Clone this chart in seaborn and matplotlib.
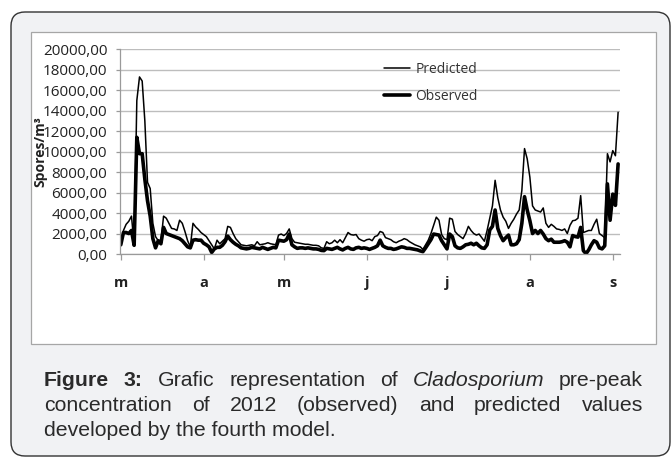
import pandas as pd
import matplotlib.pyplot as plt
import seaborn as sns
from matplotlib.patches import FancyBboxPatch, Rectangle
from matplotlib.transforms import IdentityTransform

# daily Cladosporium concentration, 1 March - 3 September 2012 (spores/m3)
start_date = "2012-03-01"
end_date = "2012-09-03"

predicted = [
    950, 2300, 2900, 3200, 3700, 900, 15000, 17300, 16900, 13000,
    7000, 6400, 3000, 1700, 1300, 1200, 3700, 3500, 3000, 2500,
    2450, 2300, 3300, 3000, 2200, 1300, 700, 3000, 2650, 2400,
    2100, 1900, 1700, 1300, 900, 500, 1350, 1000, 1250, 1500,
    2700, 2600, 2000, 1500, 1200, 900, 850, 800, 850, 900,
    800, 1200, 900, 950, 1000, 1100, 1000, 950, 900, 1850,
    1950, 1800, 2000, 2450, 1500, 1150, 1100, 1050, 1000, 950,
    950, 900, 850, 850, 800, 600, 550, 1200, 1000, 1100,
    1350, 1100, 1400, 1100, 1600, 2100, 1900, 1850, 1900, 1500,
    1350, 1250, 1400, 1450, 1300, 1700, 1800, 2200, 2100, 1600,
    1500, 1400, 1200, 1100, 1250, 1350, 1500, 1400, 1200, 1050,
    900, 800, 700, 450, 900, 1350, 2000, 2800, 3600, 3300,
    1900, 1500, 1400, 3500, 3400, 2200, 1900, 1700, 1500, 2000,
    2700, 2300, 2000, 1850, 1950, 1600, 1250, 2300, 3500, 4700,
    7200, 5500, 4300, 3600, 3200, 2500, 3000, 3400, 3900, 4300,
    6200, 10300, 9300, 7500, 4700, 4300, 4200, 4100, 4500, 3000,
    2600, 2900, 2700, 2450, 2400, 2300, 2450, 2000, 2800, 3250,
    3300, 3500, 5700, 2100, 2200, 2300, 2300, 2900, 3400, 2000,
    1800, 1600, 9800, 9000, 10100, 9600, 13850,
]

observed = [
    900, 2100, 2100, 2000, 2300, 850, 11400, 9800, 9800, 7300,
    5200, 3700, 1500, 600, 1300, 1000, 2600, 2000, 1900, 1800,
    1700, 1600, 1500, 1300, 1000, 700, 600, 1350, 1400, 1350,
    1350, 1050, 900, 700, 150, 500, 650, 650, 850, 1200,
    1750, 1400, 1150, 950, 800, 600, 550, 500, 550, 650,
    600, 550, 500, 650, 550, 450, 550, 650, 600, 1350,
    1300, 1250, 1400, 1950, 900, 700, 550, 600, 600, 550,
    600, 550, 500, 500, 450, 350, 330, 550, 500, 450,
    550, 650, 500, 400, 550, 650, 500, 450, 600, 650,
    550, 600, 550, 450, 550, 650, 800, 1350, 800, 650,
    550, 550, 450, 500, 600, 700, 650, 550, 550, 500,
    450, 400, 300, 230, 600, 1000, 1400, 1950, 1900, 1850,
    1300, 900, 500, 1950, 1700, 800, 600, 550, 700, 900,
    950, 1050, 900, 1050, 800, 600, 550, 900, 2350, 2700,
    4300, 2500, 1800, 1300, 1600, 1850, 900, 900, 1000, 1400,
    3000, 5600, 4300, 3250, 2000, 2300, 2000, 2300, 1950, 1500,
    1300, 1450, 1150, 1150, 1150, 1200, 1300, 1150, 700, 1800,
    1700, 1650, 2600, 330, 30, 400, 900, 1300, 1150, 600,
    500, 800, 6850, 3300, 5850, 4750, 8800,
]

month_labels = ["m", "a", "m", "j", "j", "a", "s"]
y_ticks = [0, 2000, 4000, 6000, 8000, 10000, 12000, 14000, 16000, 18000, 20000]

dates = pd.date_range(start_date, end_date, freq="D")
df = pd.DataFrame({"date": dates, "Predicted": predicted, "Observed": observed})

sns.set_theme(style="white")
plt.rcParams["font.family"] = ["Open Sans", "DejaVu Sans"]

W, H = 671, 457
fig = plt.figure(figsize=(W / 100, H / 100), dpi=100)
fig.patch.set_facecolor("white")


def px(x, y):
    # top-left pixel coords -> figure fraction
    return x / W, 1 - y / H


# rounded grey panel and white chart frame
fig.patches.append(FancyBboxPatch(
    (11, 1), 659, 444, boxstyle="round,pad=0,rounding_size=14",
    transform=IdentityTransform(), facecolor="#f1f2f4", edgecolor="#333333",
    linewidth=1.0, zorder=0))
fig.patches.append(Rectangle(
    (31, H - 344), 625, 312, transform=IdentityTransform(),
    facecolor="white", edgecolor="#a6a6a6", linewidth=0.9, zorder=1))

ax = fig.add_axes([120 / W, (H - 254) / H, 500 / W, 204.7 / H])
ax.set_zorder(2)
ax.set_facecolor("none")

sns.lineplot(data=df, x="date", y="Predicted", color="black", linewidth=1.1,
             label="Predicted", ax=ax)
sns.lineplot(data=df, x="date", y="Observed", color="black", linewidth=2.6,
             label="Observed", ax=ax)
for line in ax.get_lines():
    line.set_solid_joinstyle("round")

ax.set_ylim(0, 20000)
ax.set_xlim(dates[0] - pd.Timedelta(hours=7), dates[-1] + pd.Timedelta(hours=17))
ax.set_yticks(y_ticks)
ax.set_yticklabels([f"{v:.2f}".replace(".", ",") for v in y_ticks])
ax.set_xticks(pd.date_range(start_date, "2012-09-01", freq="MS"))
ax.set_xticklabels(month_labels, fontweight="bold")
ax.grid(axis="y", color="#bdbdbd", linewidth=1.0)
ax.set_axisbelow(True)

for side in ["top", "right"]:
    ax.spines[side].set_visible(False)
for side in ["left", "bottom"]:
    ax.spines[side].set_color("#9a9a9a")
    ax.spines[side].set_linewidth(0.9)

ax.tick_params(axis="y", length=3, color="#9a9a9a", width=0.9, pad=6,
               labelsize=11, labelcolor="#222222", left=True)
ax.tick_params(axis="x", length=4, color="#9a9a9a", width=0.9, pad=12,
               labelsize=10.5, labelcolor="#222222", bottom=True)
ax.set_xlabel("")
ax.set_ylabel("")

fig.text(*px(40, 152), "Spores/m³", rotation=90, ha="center", va="center",
         fontsize=10, fontweight="bold", color="#222222", zorder=5)

leg = ax.legend(loc="upper left", bbox_to_anchor=px(384, 62),
                bbox_transform=fig.transFigure, frameon=False, fontsize=10,
                handlelength=1.9, handletextpad=0.35, labelspacing=0.88,
                borderpad=0, borderaxespad=0)
for t in leg.get_texts():
    t.set_color("#333333")

# justified caption
cap_font = dict(family=["Liberation Sans", "DejaVu Sans"], size=15.3,
                color="#2a2a2a")
lines = [
    [("Figure", "bold", "normal"), ("3:", "bold", "normal"),
     ("Grafic", "normal", "normal"), ("representation", "normal", "normal"),
     ("of", "normal", "normal"), ("Cladosporium", "normal", "italic"),
     ("pre-peak", "normal", "normal")],
    [("concentration", "normal", "normal"), ("of", "normal", "normal"),
     ("2012", "normal", "normal"), ("(observed)", "normal", "normal"),
     ("and", "normal", "normal"), ("predicted", "normal", "normal"),
     ("values", "normal", "normal")],
]
baselines = [385.5, 411, 436]
left_px, right_px = 44, 643
renderer = fig.canvas.get_renderer()
for words, base in zip(lines, baselines):
    texts = [fig.text(0, 1 - base / H, w, fontweight=fw, fontstyle=fs,
                      va="baseline", ha="left", **cap_font)
             for w, fw, fs in words]
    widths = [t.get_window_extent(renderer).width for t in texts]
    gap = (right_px - left_px - sum(widths)) / (len(texts) - 1)
    x = left_px
    for t, w in zip(texts, widths):
        t.set_x(x / W)
        x += w + gap
fig.text(left_px / W, 1 - baselines[2] / H, "developed by the fourth model.",
         va="baseline", ha="left", **cap_font)

fig.savefig("out.png", dpi=100)
plt.close()
